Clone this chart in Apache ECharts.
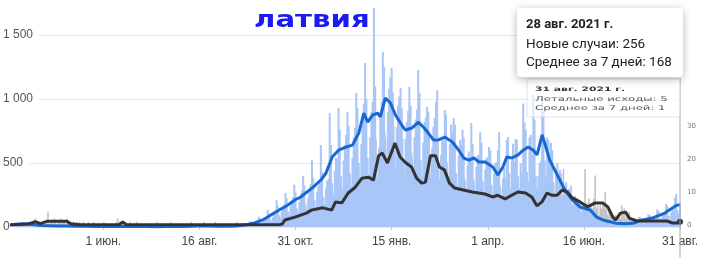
<!DOCTYPE html>
<html><head><meta charset="utf-8">
<script src="https://cdn.jsdelivr.net/npm/echarts@6/dist/echarts.min.js"></script>
<style>html,body{margin:0;padding:0;background:#fff}#c{width:709px;height:261px}</style>
</head><body><div id="c"></div>
<script>
// Day 0 = 2020-03-20, one value per day up to 2021-08-31
const startYear = 2020, startMonth = 2, startDay = 20;

const xTickDates = ['2020-06-01','2020-08-16','2020-10-31','2021-01-15','2021-04-01','2021-06-16','2021-08-31'];
const xTickLabels = ['1 июн.','16 авг.','31 окт.','15 янв.','1 апр.','16 июн.','31 авг.'];
const caseTickLabels = ['0','500','1 000','1 500'];
const deathTickLabels = ['0','10','20','30'];

// New cases per day
const casesDaily = [
25,24,18,16,13,28,20, 30,34,22,9,18,37,25, 22,26,14,10,18,25,27, 15,18,9,6,10,14,12,
12,14,7,4,9,13,11, 10,11,5,3,7,9,10, 9,12,6,4,8,10,7, 8,7,4,3,6,9,5,
7,6,3,2,5,6,4, 5,6,2,1,4,5,4, 4,5,1,1,3,4,3, 6,5,2,1,4,5,3,
5,4,1,0,3,4,2, 7,6,3,2,5,6,5, 6,5,2,1,4,5,4, 4,4,1,1,3,4,2,
3,2,1,0,2,3,2, 4,3,1,1,3,4,3, 5,4,1,0,3,4,2, 6,5,2,1,4,5,4,
9,7,3,2,6,8,7, 13,11,5,4,8,12,10, 12,10,5,3,7,10,9, 9,7,4,2,6,8,6,
7,6,3,2,5,7,5, 12,10,5,3,8,10,9, 22,18,9,7,13,19,17, 44,36,20,14,26,37,33,
82,66,36,27,47,58,70, 135,105,58,45,77,95,115, 210,165,92,70,120,150,173,
265,225,120,92,160,200,233, 330,270,145,112,195,240,283, 400,325,175,135,230,290,335,
523,385,210,160,275,320,367, 640,430,235,180,300,360,375, 890,640,340,260,440,540,530,
930,760,400,300,520,640,720, 900,790,420,320,540,700,775, 1047,930,500,380,650,850,963,
1281,1000,540,410,700,900,979, 1711,1100,520,380,620,850,979, 1367,1250,700,530,900,1080,1173,
1242,1050,600,450,780,950,1018, 1086,930,520,400,690,820,909, 1094,950,540,420,700,840,916,
1227,1047,520,400,660,820,856, 938,900,500,380,620,780,852, 977,1070,450,330,560,700,673,
914,880,480,370,650,800,736, 850,800,420,320,560,680,640, 760,700,360,280,480,590,540,
812,650,350,270,470,560,563, 740,660,360,260,450,540,546, 625,600,330,240,420,500,505,
600,742,300,220,380,460,378, 680,703,420,300,520,650,507, 690,680,400,300,500,420,965,
820,760,430,350,700,720,560, 1031,840,400,300,400,500,519, 980,900,520,400,700,680,580,
656,600,330,250,420,500,394, 445,420,230,170,280,350,275, 300,290,150,110,190,240,197,
220,210,110,80,140,175,150, 190,175,90,65,115,145,130, 105,95,50,36,65,80,73,
65,60,30,22,40,50,48, 44,40,20,14,27,33,32, 36,34,16,12,22,28,27,
50,46,24,17,32,39,37, 80,72,38,28,50,60,57, 100,92,48,35,63,78,74,
138,126,65,48,85,105,98, 180,165,86,62,112,140,130, 230,256,130,100,190
];

// 7-day average of cases: [day index, value]
const casesAvg = [
[0,20],[3,21],[10,25],[17,20],[24,12],[31,10],[38,8],[45,8],[52,6],[59,5],[66,4],[73,3],[80,4],[87,3],
[94,5],[101,4],[108,3],[115,2],[122,3],[129,3],[136,4],[143,6],[150,9],[157,8],[164,6],[171,5],[178,8],
[185,15],[192,30],[199,55],[208,109],[219,172],[225,215],[229,234],[239,312],[245,367],[249,420],[254,547],
[259,600],[265,625],[270,640],[275,734],[279,890],[282,820],[286,875],[290,890],[292,860],[296,1008],
[300,969],[304,875],[310,781],[312,758],[317,773],[322,820],[326,781],[330,734],[334,680],[338,680],
[343,703],[349,664],[354,600],[358,539],[362,523],[366,539],[370,508],[375,508],[381,469],[385,406],
[389,469],[392,547],[396,539],[401,563],[405,600],[409,625],[413,600],[416,563],[420,719],[422,656],
[426,523],[430,445],[434,367],[438,289],[444,211],[450,156],[458,133],[463,78],[468,55],[472,45],
[478,30],[486,25],[493,32],[497,50],[507,70],[517,109],[526,168],[529,175]
];

// Deaths per day
const deathsDaily = [
0,0,0,0,0,0,0, 0,0,0,0,0,0,0, 1,0,0,0,1,0,2, 0,0,1,0,0,1,0,
1,1,4,0,1,1,1, 2,1,0,1,1,2,1, 1,1,0,2,1,1,1, 0,1,0,0,1,0,1,
0,0,1,0,0,0,1, 0,0,0,1,0,0,0, 0,0,0,0,1,0,0, 0,0,0,0,0,0,0,
1,2,0,1,0,1,0, 0,0,0,0,1,0,0, 0,0,1,0,0,0,0, 0,0,0,0,0,0,0,
0,0,0,0,1,0,0, 0,0,0,0,0,0,0, 0,1,0,0,0,0,0, 0,0,0,0,0,0,0,
0,0,0,1,0,0,0, 0,0,0,0,0,0,1, 0,0,0,0,0,0,0, 0,1,0,0,0,0,0,
0,0,0,0,0,0,0, 0,0,0,0,1,0,0, 0,0,0,0,0,0,0, 0,0,1,0,0,0,0,
0,0,0,0,1,0,0, 0,1,0,0,0,0,1, 0,0,1,0,0,1,2,
2,1,3,1,2,2,2, 3,2,4,1,3,2,3, 4,3,5,2,3,4,3,
6,4,5,3,5,5,5, 6,5,7,3,5,5,5, 4,5,9,4,6,5,6,
8,6,9,5,7,6,7, 11,9,13,8,10,9,10, 14,11,17,9,13,12,12,
16,12,19,10,14,14,15, 24,15,26,12,18,14,13, 22,18,28,16,23,19,21,
27,20,30,17,23,21,20, 22,18,26,15,20,17,18, 19,15,22,13,17,14,15,
15,12,17,10,13,11,13, 24,18,27,15,19,17,17, 21,17,25,14,18,16,19,
17,13,19,10,14,12,13, 13,10,15,8,11,9,11, 12,10,14,8,11,9,10,
12,9,14,7,10,9,9, 11,9,13,7,9,8,9, 10,8,12,6,9,7,8,
10,8,12,6,8,8,8, 9,8,12,6,9,8,8, 12,9,14,8,10,8,9,
11,9,13,7,9,8,8, 7,5,9,4,6,5,6, 10,9,13,7,9,7,8,
11,8,13,7,9,7,8, 12,10,9,17,11,8,7, 10,8,12,6,8,7,8,
7,5,7,4,5,3,17, 6,5,8,4,6,5,8, 15,5,6,3,6,5,7,
6,10,5,3,4,3,4, 2,1,3,1,2,3,2, 6,4,5,2,3,3,4,
2,1,2,1,2,1,2, 2,1,1,0,2,1,1, 1,2,1,1,1,1,1,
2,1,1,0,1,2,1, 1,1,0,1,1,1,1, 0,1,1,0,5
];

// 7-day average of deaths: [day index, value]
const deathsAvg = [
[0,0],[14,0.3],[17,0.6],[20,1.0],[24,0.4],[29,1.1],[36,1.1],[45,1.1],[48,0.4],[55,0.1],[86,0.1],[89,0.9],
[92,0.1],[213,0.1],[215,0.3],[217,1.5],[225,2.4],[234,3.6],[238,4.5],[247,5.2],[254,4.5],[257,7],[262,6.7],
[267,9.7],[272,11.2],[278,14.2],[283,14.5],[287,13.6],[291,21],[294,21.8],[298,18.8],[304,24.8],[308,20.6],
[312,19],[317,17.6],[321,14.2],[325,12.7],[328,13],[332,21],[336,21],[339,17.6],[343,16.7],[347,12.7],
[351,11.2],[358,10.6],[365,10],[375,9.4],[381,8.5],[385,9],[391,7.9],[396,9],[401,10],[407,9.7],[412,8.5],
[416,5.8],[420,7],[424,9.7],[428,9],[432,9],[436,10.6],[440,10],[444,8.2],[450,7],[456,5.5],[462,6.7],
[468,6.7],[472,5.5],[476,2.4],[478,1.5],[482,3.6],[486,3.9],[489,2.1],[495,1.2],[519,1.2],[523,0.6],
[527,0.6],[529,1.0]
];

const tip1Lines = ['28 авг. 2021 г.', 'Новые случаи: 256', 'Среднее за 7 дней: 168'];
const tip2Lines = ['31 авг. 2021 г.', 'Летальные исходы: 5', 'Среднее за 7 дней: 1'];
const titleText = 'латвия';

const dates = casesDaily.map((_, i) => new Date(Date.UTC(startYear, startMonth, startDay + i)).toISOString().slice(0, 10));

const chart = echarts.init(document.getElementById('c'), null, {renderer: 'canvas'});
const isTick = (idx, val) => xTickDates.indexOf(val) >= 0;

chart.setOption({
  animation: false,
  backgroundColor: '#fff',
  grid: [
    {left: 10, right: 29, top: 35, bottom: 34},
    {left: 10, right: 29, top: 126, bottom: 36}
  ],
  xAxis: [
    {type: 'category', gridIndex: 0, data: dates, boundaryGap: false,
     axisLine: {show: false},
     axisTick: {show: true, interval: isTick, length: 3, lineStyle: {color: '#ccc'}},
     axisLabel: {interval: isTick, margin: 9, fontSize: 12, color: '#444', fontFamily: 'Liberation Sans',
       formatter: v => xTickLabels[xTickDates.indexOf(v)]},
     splitLine: {show: false}},
    {type: 'category', gridIndex: 1, data: dates, boundaryGap: false, show: false}
  ],
  yAxis: [
    {type: 'value', gridIndex: 0, min: 0, max: 1500, interval: 500,
     axisLine: {show: false}, axisTick: {show: false},
     axisLabel: {align: 'left', margin: 8, fontSize: 12, color: '#555', fontFamily: 'Liberation Sans',
       backgroundColor: '#fff', padding: [1, 6, 1, 0],
       formatter: v => caseTickLabels[v / 500] || ''},
     splitLine: {lineStyle: {color: '#e9e9e9'}}},
    {type: 'value', gridIndex: 1, min: 0, max: 30, interval: 10, position: 'right',
     axisLine: {show: false}, axisTick: {show: false}, splitLine: {show: false},
     axisLabel: {margin: 7, fontSize: 7, color: '#777', fontFamily: 'DejaVu Sans',
       formatter: v => deathTickLabels[v / 10]}}
  ],
  series: [
    {type: 'bar', xAxisIndex: 1, yAxisIndex: 1, data: deathsDaily, barWidth: 1.6, clip: false,
     itemStyle: {color: '#c2c2c2'}},
    {type: 'bar', xAxisIndex: 0, yAxisIndex: 0, data: casesDaily, barWidth: 2, clip: false,
     itemStyle: {color: '#a8c6f7'}},
    {type: 'line', xAxisIndex: 0, yAxisIndex: 0, data: casesAvg, symbol: 'none', clip: false,
     lineStyle: {color: '#1967d2', width: 3}},
    {type: 'line', xAxisIndex: 1, yAxisIndex: 1, data: deathsAvg, symbol: 'none',
     lineStyle: {color: '#333', width: 3},
     markPoint: {symbol: 'circle', symbolSize: 6, label: {show: false}, itemStyle: {color: '#333'},
       data: [{coord: [dates.length - 1, deathsAvg[deathsAvg.length - 1][1]]}]}}
  ]
});

const xEnd = chart.convertToPixel({xAxisIndex: 1}, dates[dates.length - 1]);

chart.setOption({
  graphic: [
    {type: 'text', left: 254, top: 10, scaleX: 1.27, z: 20,
     style: {text: titleText, font: 'bold 23px "DejaVu Sans"', fill: '#1b1bf0'}},
    {type: 'line', z: 15, shape: {x1: xEnd, y1: 78, x2: xEnd, y2: 258},
     style: {stroke: '#aaa', lineWidth: 1}},
    {type: 'rect', z: 16, shape: {x: 527, y: 79, width: xEnd - 527, height: 38},
     style: {fill: 'rgba(255,255,255,0.6)', stroke: 'rgba(200,200,200,0.5)', lineWidth: 1}},
    {type: 'text', x: 535, y: 89.5, scaleX: 1.8, z: 17,
     style: {text: tip2Lines[0], font: 'bold 6px "DejaVu Sans"', fill: '#333', verticalAlign: 'middle'}},
    {type: 'text', x: 535, y: 99, scaleX: 1.8, z: 17,
     style: {text: tip2Lines[1], font: '6.5px "DejaVu Sans"', fill: '#555', verticalAlign: 'middle'}},
    {type: 'text', x: 535, y: 108, scaleX: 1.8, z: 17,
     style: {text: tip2Lines[2], font: '6.5px "DejaVu Sans"', fill: '#555', verticalAlign: 'middle'}},
    {type: 'rect', z: 18, shape: {x: 517, y: 8, width: 166, height: 69, r: 4},
     style: {fill: '#fff', shadowBlur: 8, shadowColor: 'rgba(0,0,0,0.3)', shadowOffsetY: 2}},
    {type: 'text', x: 526, y: 25, z: 19,
     style: {text: tip1Lines[0], font: 'bold 13px Roboto', fill: '#222', verticalAlign: 'middle'}},
    {type: 'text', x: 526, y: 44.5, z: 19,
     style: {text: tip1Lines[1], font: '13.5px Roboto', fill: '#222', verticalAlign: 'middle'}},
    {type: 'text', x: 526, y: 62.5, z: 19,
     style: {text: tip1Lines[2], font: '13.5px Roboto', fill: '#222', verticalAlign: 'middle'}}
  ]
});
</script>
</body></html>
